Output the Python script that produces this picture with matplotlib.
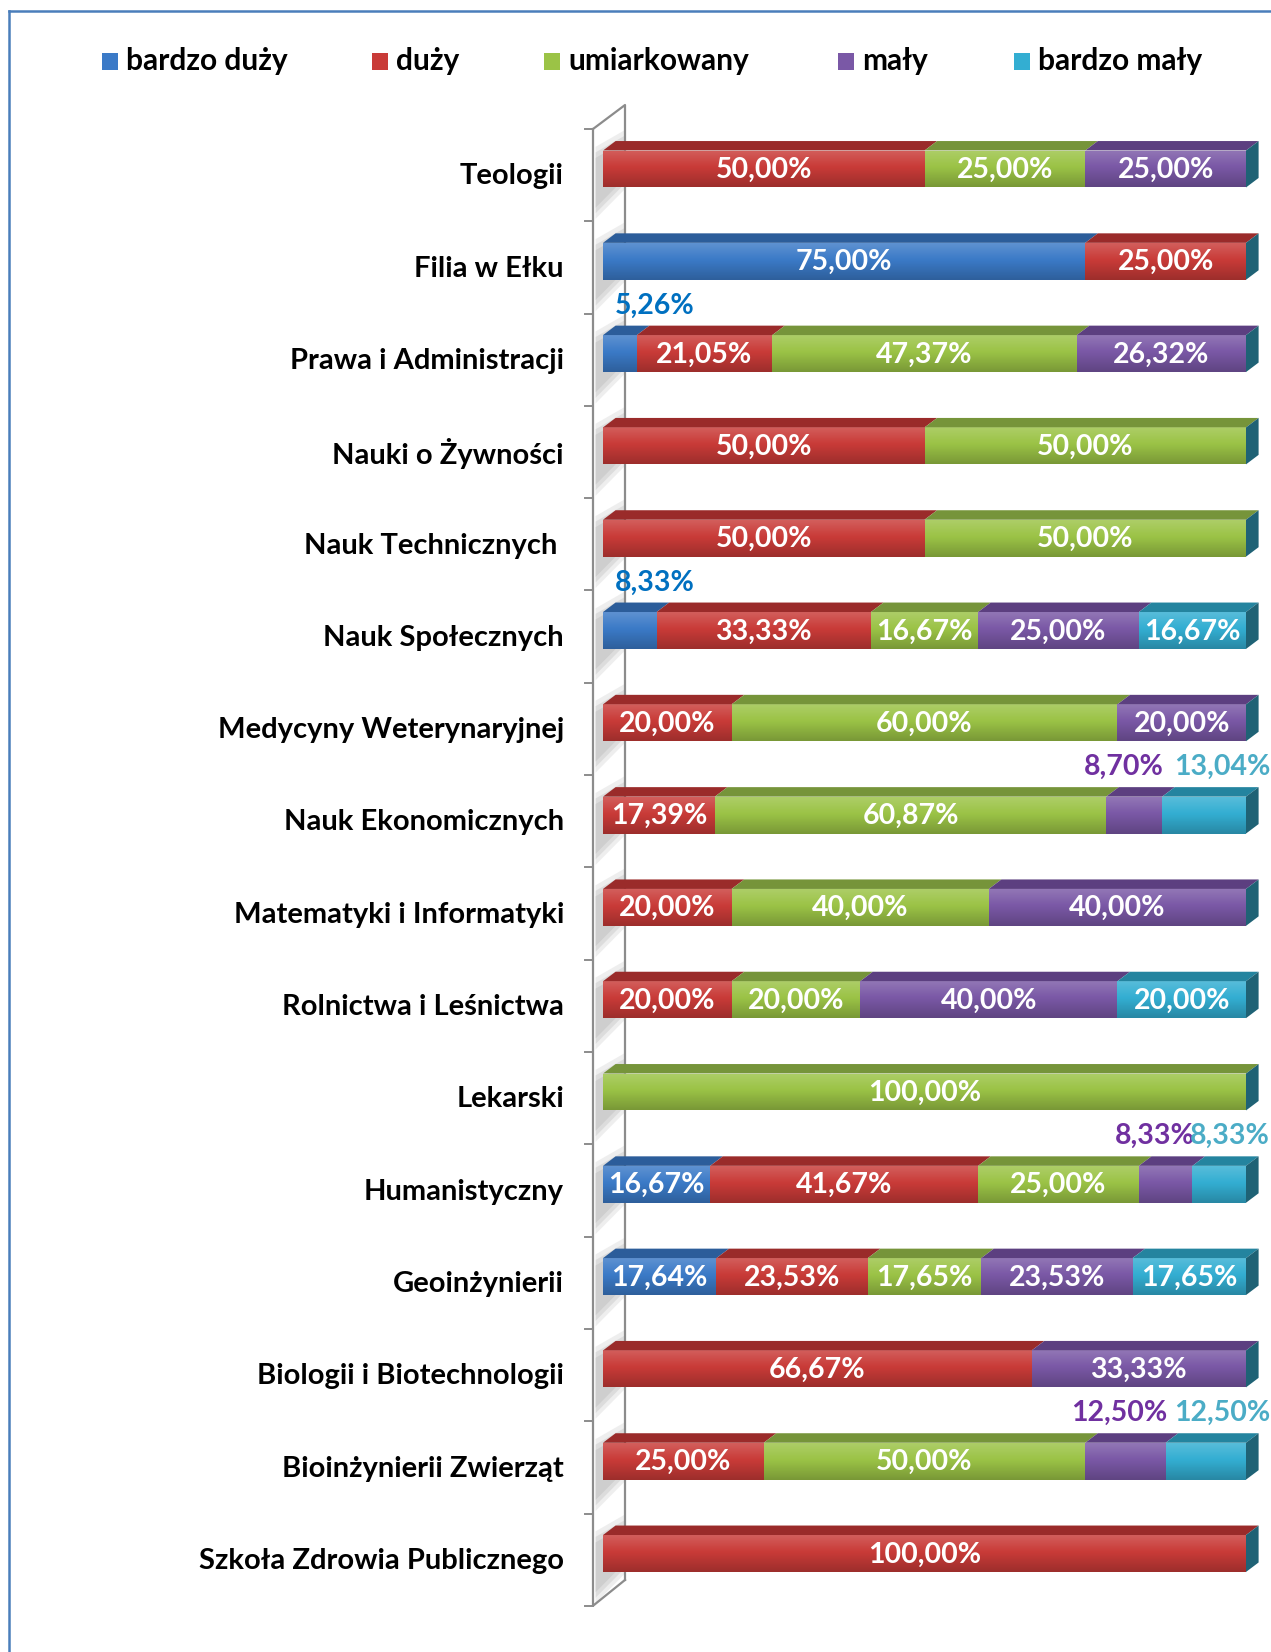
import numpy as np
import matplotlib
matplotlib.use('Agg')
import matplotlib.pyplot as plt
from matplotlib.patches import Polygon, Rectangle
from matplotlib.lines import Line2D

plt.rcParams['font.family'] = ['Lato', 'DejaVu Sans']

# Dane z wykresu (w procentach)
wydzialy = ['Teologii', 'Filia w Ełku', 'Prawa i Administracji', 'Nauki o Żywności',
            'Nauk Technicznych ', 'Nauk Społecznych', 'Medycyny Weterynaryjnej',
            'Nauk Ekonomicznych', 'Matematyki i Informatyki', 'Rolnictwa i Leśnictwa',
            'Lekarski', 'Humanistyczny', 'Geoinżynierii', 'Biologii i Biotechnologii',
            'Bioinżynierii Zwierząt', 'Szkoła Zdrowia Publicznego']
serie = ['bardzo duży', 'duży', 'umiarkowany', 'mały', 'bardzo mały']
bardzo_duzy = [0, 75, 5.26, 0, 0, 8.33, 0, 0, 0, 0, 0, 16.67, 17.64, 0, 0, 0]
duzy = [50, 25, 21.05, 50, 50, 33.33, 20, 17.39, 20, 20, 0, 41.67, 23.53, 66.67, 25, 100]
umiarkowany = [25, 0, 47.37, 50, 50, 16.67, 60, 60.87, 40, 20, 100, 25, 17.65, 0, 50, 0]
maly = [25, 0, 26.32, 0, 0, 25, 20, 8.70, 40, 40, 0, 8.33, 23.53, 33.33, 12.5, 0]
bardzo_maly = [0, 0, 0, 0, 0, 16.67, 0, 13.04, 0, 20, 0, 8.33, 17.65, 0, 12.5, 0]

# Kolory serii: przód, góra, etykieta nad słupkiem
kolory_przod = ['#3B7AC7', '#C93B38', '#9BC346', '#7A58A6', '#33AED2']
kolory_gora = ['#2C5D9A', '#9A2B2A', '#76943A', '#5C3F80', '#24849F']
kolory_etykiet = ['#0070C0', '#C00000', '#77933C', '#7030A0', '#4BACC6']
kolor_boku = '#1F6275'

W, H = 1271, 1652
fig = plt.figure(figsize=(W / 100, H / 100), dpi=100)
ax = fig.add_axes([0, 0, 1, 1])
ax.axis('off')

# przeliczenie pikseli na jednostki danych
PX0, PX100 = 603, 1246
SX = (PX100 - PX0) / 100.0
PY0, KROK = 169, 92.3

h = 0.40          # wysokość przedniej ściany słupka
dx = 12.6 / SX    # głębokość 3D w poziomie
dy = 9.5 / KROK   # głębokość 3D w pionie

y = np.arange(len(wydzialy))
dane = np.array([bardzo_duzy, duzy, umiarkowany, maly, bardzo_maly])

# ściana boczna (lewa) z podziałką
xf, xb = -10 / SX, 22 / SX
ytf, ytb = -40 / KROK, -64 / KROK
ybf, ybb = ytf + len(wydzialy), ytb + len(wydzialy) - 0.02
ax.plot([xf, xb, xb], [ytf, ytb, ybb], color='#8C8C8C', lw=1.6, zorder=2)
ax.plot([xf, xf, xb], [ytf, ybf, ybb], color='#8C8C8C', lw=1.6, zorder=2)
for k in range(len(wydzialy) + 1):
    ax.plot([xf - 8 / SX, xf], [ytf + k, ytf + k], color='#8C8C8C', lw=1.4, zorder=2)

# cień słupków na ścianie
for i in y:
    for j, a in enumerate([0.25, 0.35, 0.45]):
        off = 0.06 * (2 - j)
        cien = Polygon([(xf + 0.4, i - h / 2 + 0.08 - off), (xb, i - h / 2 - dy - off),
                        (xb, i + h / 2 - dy + off), (xf + 0.4, i + h / 2 + 0.22 + off)],
                       closed=True, facecolor='#BDBDBD', edgecolor='none', alpha=a, zorder=1.5)
        ax.add_patch(cien)

# słupki
lewo = np.zeros(len(wydzialy))
for s in range(len(serie)):
    ax.barh(y, dane[s], left=lewo, height=h, color=kolory_przod[s], linewidth=0, zorder=3)
    for i in y:
        v = dane[s][i]
        if v <= 0:
            continue
        l, r = lewo[i], lewo[i] + v
        gora = Polygon([(l, i - h / 2), (r, i - h / 2), (r + dx, i - h / 2 - dy), (l + dx, i - h / 2 - dy)],
                       closed=True, facecolor=kolory_gora[s], edgecolor='none', zorder=3)
        ax.add_patch(gora)
    lewo += dane[s]

# gradient na przedniej ścianie i bok słupka
grad = np.zeros((40, 1, 4))
t = np.linspace(0, 1, 40)
grad[:, 0, 3] = np.where(t < 0.45, 0.18 * (0.45 - t) / 0.45, 0.22 * (t - 0.45) / 0.55)
grad[:, 0, :3] = np.where(t < 0.45, 1.0, 0.0)[:, None]
for i in y:
    ax.imshow(grad, extent=(0, 100, i + h / 2, i - h / 2), aspect='auto',
              interpolation='bilinear', zorder=4)
    bok = Polygon([(100, i - h / 2), (100 + dx, i - h / 2 - dy), (100 + dx, i + h / 2 - dy), (100, i + h / 2)],
                  closed=True, facecolor=kolor_boku, edgecolor='none', zorder=3)
    ax.add_patch(bok)
ax.set_xlim(-PX0 / SX, (W - PX0) / SX)
ax.set_ylim((H - PY0) / KROK, -PY0 / KROK)

# etykiety wartości
def format_proc(v):
    return f'{v:.2f}'.replace('.', ',') + '%'

PROG = 15  # mniejsze wartości opisane nad słupkiem
lewo = np.zeros(len(wydzialy))
for s in range(len(serie)):
    for i in y:
        v = dane[s][i]
        if v <= 0:
            continue
        l = lewo[i]
        if v >= PROG:
            ax.text(l + v / 2, i + 0.01, format_proc(v), ha='center', va='center',
                    color='white', fontsize=20.5, fontweight='bold', zorder=6)
        else:
            if s == 0:
                x, ha = l + 12 / SX, 'left'
            elif s == len(serie) - 1:
                x, ha = (1270 - PX0) / SX, 'right'
            elif 0 < dane[s + 1][i] < PROG:
                x, ha = l + v + 2 / SX, 'right'
            else:
                x, ha = l + v / 2, 'center'
            ax.text(x, i - 0.52, format_proc(v), ha=ha, va='center',
                    color=kolory_etykiet[s], fontsize=20.5, fontweight='bold', zorder=6)
    lewo += dane[s]

# nazwy wydziałów
for i, nazwa in zip(y, wydzialy):
    ax.text((564 - PX0) / SX, i + 0.08, nazwa, ha='right', va='center',
            fontsize=21, fontweight='bold', color='black')

# legenda
leg_kw = [102, 372, 544, 838, 1014]
for s, nazwa in enumerate(serie):
    fig.patches.append(Rectangle((leg_kw[s] / W, 1 - 70 / H), 16 / W, 17 / H,
                                 transform=fig.transFigure, facecolor=kolory_przod[s],
                                 edgecolor='none'))
    fig.text((leg_kw[s] + 24) / W, 1 - 61 / H, nazwa, ha='left', va='center',
             fontsize=21.5, fontweight='bold')

# ramka wykresu
fig.lines.append(Line2D([9 / W, 1], [1 - 11 / H, 1 - 11 / H], transform=fig.transFigure,
                        color='#4A7EBB', lw=1.8))
fig.lines.append(Line2D([9 / W, 9 / W], [1 - 11 / H, 0], transform=fig.transFigure,
                        color='#4A7EBB', lw=1.8))

fig.savefig('out.png', dpi=100)
